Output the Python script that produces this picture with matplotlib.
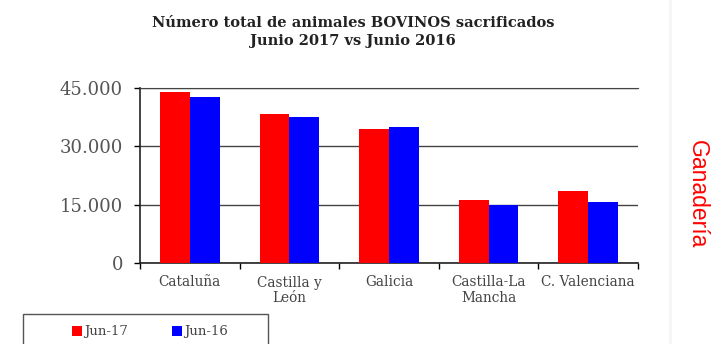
import matplotlib
matplotlib.use("Agg")
import matplotlib.pyplot as plt
import matplotlib.patches as mpatches
import numpy as np

# data
categories = ["Cataluña", "Castilla y\nLeón", "Galicia", "Castilla-La\nMancha", "C. Valenciana"]
jun17 = [43900, 38300, 34500, 16300, 18500]
jun16 = [42700, 37500, 35000, 14900, 15700]
series_names = ["Jun-17", "Jun-16"]
yticks = [0, 15000, 30000, 45000]
ytick_labels = ["0", "15.000", "30.000", "45.000"]

serif = "DejaVu Serif"

fig = plt.figure(figsize=(7.11, 3.44), dpi=100)
ax = fig.add_axes([140 / 711, 1 - 263 / 344, 498 / 711, 175 / 344])

x = np.arange(len(categories))
w = 0.3
ax.bar(x - w / 2, jun17, w, color="#ff0000", label=series_names[0], zorder=3)
ax.bar(x + w / 2, jun16, w, color="#0000ff", label=series_names[1], zorder=3)

ax.set_xlim(-0.5, len(categories) - 0.5)
ax.set_ylim(0, 45000)
ax.set_yticks(yticks)
ax.set_yticklabels(ytick_labels, fontfamily=serif, fontsize=13, color="#555555")
ax.tick_params(axis="y", length=4.3, width=1, direction="out", pad=8)

# category labels in the middle, tick marks at the boundaries
ax.set_xticks(x)
ax.set_xticklabels(categories, fontfamily=serif, fontsize=9.8, color="#444444", linespacing=1.15)
ax.tick_params(axis="x", which="major", length=0, pad=9)
ax.set_xticks(np.arange(-0.5, len(categories)), minor=True)
ax.tick_params(axis="x", which="minor", length=4.3, width=1, direction="out")

ax.yaxis.grid(True, color="#444444", linewidth=1, zorder=0)
ax.set_axisbelow(True)
ax.spines["right"].set_visible(False)
ax.spines["top"].set_color("#444444")
ax.spines["left"].set_color("#222222")
ax.spines["bottom"].set_color("#222222")
ax.spines["left"].set_linewidth(1.2)
ax.spines["bottom"].set_linewidth(1.2)

fig.text(353 / 711, 1 - 32 / 344, "Número total de animales BOVINOS sacrificados\nJunio 2017 vs Junio 2016",
         ha="center", va="center", fontfamily=serif, fontweight="bold",
         fontsize=10.5, color="#222222", linespacing=1.4)

# legend box, cut off by the bottom edge of the picture
box = mpatches.Rectangle((23 / 711, -0.05), 245 / 711, 0.05 + 1 - 314 / 344,
                         transform=fig.transFigure, fill=False, edgecolor="#555555", linewidth=1)
fig.patches.append(box)
leg = fig.legend(loc="center", bbox_to_anchor=(150 / 711, 1 - 332 / 344), ncol=2, frameon=False,
                 prop={"family": serif, "size": 9.5}, handlelength=0.75, handleheight=0.75,
                 handletextpad=0.15, borderpad=0, columnspacing=3.3)
for t in leg.get_texts():
    t.set_color("#444444")

fig.text(697 / 711, 1 - 194 / 344, "Ganadería", rotation=-90, ha="center", va="center",
         color="#ff0000", fontfamily="Liberation Sans", fontsize=16.5)

# faint page border on the right
fig.add_artist(plt.Line2D([670 / 711, 670 / 711], [0, 1], color="#f5f5f5", linewidth=2))

fig.savefig("out.png", dpi=100)
